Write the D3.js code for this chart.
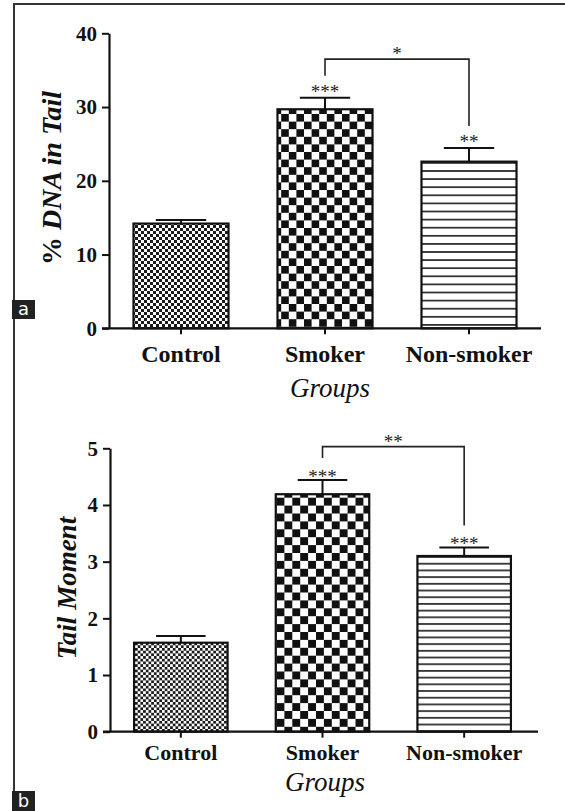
<!DOCTYPE html>
<html>
<head>
<meta charset="utf-8">
<script src="https://cdn.jsdelivr.net/npm/d3@7"></script>
<style>
  body { margin: 0; background: #fff; }
  svg { display: block; }
</style>
</head>
<body>
<div id="chart"></div>
<script>
// data
const groups = ["Control", "Smoker", "Non-smoker"];
const dnaTail = [14.2, 29.7, 22.6];
const dnaTailErr = [0.5, 1.55, 1.85];
const dnaStars = ["", "***", "**"];
const dnaTicks = [0, 10, 20, 30, 40];
const dnaBracket = 36.5;      // level of the Smoker vs Non-smoker bracket
const dnaBracketStars = "*";

const tailMoment = [1.57, 4.19, 3.10];
const tailMomentErr = [0.12, 0.25, 0.15];
const momentStars = ["", "***", "***"];
const momentTicks = [0, 1, 2, 3, 4, 5];
const momentBracket = 5.03;
const momentBracketStars = "**";

const W = 565, H = 811;
const serif = "'Liberation Serif', 'Times New Roman', serif";

const svg = d3.select("#chart").append("svg")
    .attr("width", W)
    .attr("height", H);

// fill patterns
const defs = svg.append("defs");

function checker(id, cell, bg, fg) {
    const p = defs.append("pattern")
        .attr("id", id)
        .attr("patternUnits", "userSpaceOnUse")
        .attr("width", cell * 2)
        .attr("height", cell * 2);
    p.append("rect").attr("width", cell * 2).attr("height", cell * 2).attr("fill", bg);
    p.append("rect").attr("width", cell).attr("height", cell).attr("fill", fg);
    p.append("rect").attr("x", cell).attr("y", cell).attr("width", cell).attr("height", cell).attr("fill", fg);
}

function stripes(id, gap) {
    const p = defs.append("pattern")
        .attr("id", id)
        .attr("patternUnits", "userSpaceOnUse")
        .attr("width", 10)
        .attr("height", gap);
    p.append("rect").attr("width", 10).attr("height", gap).attr("fill", "#fff");
    p.append("rect").attr("width", 10).attr("height", 1.8).attr("fill", "#333");
}

checker("fineA", 3, "#fff", "#1a1a1a");
checker("fineB", 2.7, "#fff", "#1a1a1a");
checker("bigA", 7.6, "#fff", "#111");
checker("bigB", 7.9, "#fff", "#111");
stripes("linesA", 8.1);
stripes("linesB", 6.7);

// frame and panel labels
svg.append("line").attr("x1", 14).attr("x2", 14).attr("y1", 3).attr("y2", 792)
    .attr("stroke", "#333").attr("stroke-width", 2);
svg.append("line").attr("x1", 13).attr("x2", W).attr("y1", 4).attr("y2", 4)
    .attr("stroke", "#333").attr("stroke-width", 2);

function tag(letter, x, y, w, h) {
    svg.append("rect").attr("x", x).attr("y", y).attr("width", w).attr("height", h).attr("fill", "#222");
    svg.append("text").attr("x", x + w / 2).attr("y", y + h - 4.5)
        .attr("text-anchor", "middle")
        .attr("font-family", "'DejaVu Sans', Arial, sans-serif")
        .attr("font-size", 18)
        .attr("fill", "#fff")
        .text(letter);
}
tag("a", 12, 300, 23, 19);
tag("b", 12, 791, 23, 20);

function drawPanel(cfg) {
    const y = d3.scaleLinear()
        .domain([0, d3.max(cfg.ticks)])
        .range([cfg.y0, cfg.yTop]);
    const x = d3.scaleBand()
        .domain(groups)
        .range([cfg.left, cfg.right])
        .paddingInner(0.34)
        .paddingOuter(0.17);

    const g = svg.append("g");

    // bars
    g.selectAll(".bar")
        .data(cfg.values)
        .join("rect")
        .attr("x", (d, i) => x(groups[i]))
        .attr("y", d => y(d))
        .attr("width", x.bandwidth())
        .attr("height", d => y(0) - y(d))
        .attr("fill", (d, i) => "url(#" + cfg.fills[i] + ")")
        .attr("stroke", "#111")
        .attr("stroke-width", 2.2);

    // error bars
    const cx = i => x(groups[i]) + x.bandwidth() / 2;
    const capW = x.bandwidth() * 0.53;
    cfg.values.forEach((v, i) => {
        const top = y(v + cfg.errs[i]);
        g.append("line").attr("x1", cx(i)).attr("x2", cx(i))
            .attr("y1", y(v)).attr("y2", top)
            .attr("stroke", "#111").attr("stroke-width", 2);
        g.append("line").attr("x1", cx(i) - capW / 2).attr("x2", cx(i) + capW / 2)
            .attr("y1", top).attr("y2", top)
            .attr("stroke", "#111").attr("stroke-width", 2);
        if (cfg.stars[i]) {
            g.append("text").attr("x", cx(i)).attr("y", top + cfg.starDy)
                .attr("text-anchor", "middle")
                .attr("font-family", serif)
                .attr("font-size", 19)
                .attr("fill", "#222")
                .text(cfg.stars[i]);
        }
    });

    // bracket Smoker vs Non-smoker
    const by = y(cfg.bracket);
    const l1 = y(cfg.values[1] + cfg.errs[1]) - 22;
    const l2 = y(cfg.values[2] + cfg.errs[2]) - 22;
    g.append("path")
        .attr("d", `M${cx(1)},${l1}V${by}H${cx(2)}V${l2}`)
        .attr("fill", "none")
        .attr("stroke", "#222")
        .attr("stroke-width", 1.6);
    g.append("text").attr("x", (cx(1) + cx(2)) / 2).attr("y", by + cfg.bracketDy)
        .attr("text-anchor", "middle")
        .attr("font-family", serif)
        .attr("font-size", 19)
        .attr("fill", "#222")
        .text(cfg.bracketStars);

    // Y axis
    const ya = g.append("g")
        .attr("transform", `translate(${cfg.left},0)`)
        .call(d3.axisLeft(y).tickValues(cfg.ticks).tickFormat(d3.format("d"))
            .tickSize(7).tickSizeOuter(0).tickPadding(5));
    ya.select(".domain").attr("stroke", "#111").attr("stroke-width", 2.2);
    ya.selectAll(".tick line").attr("stroke", "#111").attr("stroke-width", 2);
    ya.selectAll(".tick text")
        .attr("font-family", serif)
        .attr("font-weight", "bold")
        .attr("font-size", 21)
        .attr("fill", "#111");

    // X axis
    const xa = g.append("g")
        .attr("transform", `translate(0,${cfg.y0})`)
        .call(d3.axisBottom(x).tickSize(6).tickSizeOuter(0).tickPadding(cfg.catPad));
    xa.select(".domain").remove();
    xa.append("line").attr("x1", cfg.left - 7).attr("x2", cfg.axisEnd)
        .attr("stroke", "#111").attr("stroke-width", 2.2);
    xa.selectAll(".tick line").attr("stroke", "#111").attr("stroke-width", 2);
    xa.selectAll(".tick text")
        .attr("font-family", serif)
        .attr("font-weight", "bold")
        .attr("font-size", cfg.catSize)
        .attr("fill", "#111");

    // axis titles
    g.append("text")
        .attr("x", cfg.groupsX)
        .attr("y", cfg.groupsY)
        .attr("text-anchor", "middle")
        .attr("font-family", serif)
        .attr("font-style", "italic")
        .attr("font-size", 27)
        .attr("fill", "#111")
        .text("Groups");

    const yt = g.append("text")
        .attr("transform", `translate(${cfg.titleX},${cfg.titleY}) rotate(-90)`)
        .attr("text-anchor", "middle")
        .attr("font-family", serif)
        .attr("font-weight", "bold")
        .attr("font-style", "italic")
        .attr("font-size", cfg.titleSize)
        .attr("fill", "#111");
    cfg.title.forEach(t => {
        yt.append("tspan").attr("font-style", t.style).text(t.text);
    });
}

drawPanel({
    values: dnaTail, errs: dnaTailErr, stars: dnaStars, ticks: dnaTicks,
    bracket: dnaBracket, bracketStars: dnaBracketStars,
    fills: ["fineA", "bigA", "linesA"],
    y0: 328.3, yTop: 33.3, left: 109, right: 541, axisEnd: 541,
    starDy: 0, bracketDy: 1, catPad: 11, catSize: 24,
    groupsX: 330, groupsY: 397,
    title: [{ text: "% ", style: "normal" }, { text: "DNA in Tail", style: "italic" }],
    titleX: 61, titleY: 178, titleSize: 28
});

drawPanel({
    values: tailMoment, errs: tailMomentErr, stars: momentStars, ticks: momentTicks,
    bracket: momentBracket, bracketStars: momentBracketStars,
    fills: ["fineB", "bigB", "linesB"],
    y0: 731.7, yTop: 448.3, left: 110, right: 535, axisEnd: 538,
    starDy: 3, bracketDy: 1, catPad: 7, catSize: 22,
    groupsX: 325, groupsY: 791,
    title: [{ text: "Tail Moment", style: "italic" }],
    titleX: 76, titleY: 588, titleSize: 27
});
</script>
</body>
</html>
